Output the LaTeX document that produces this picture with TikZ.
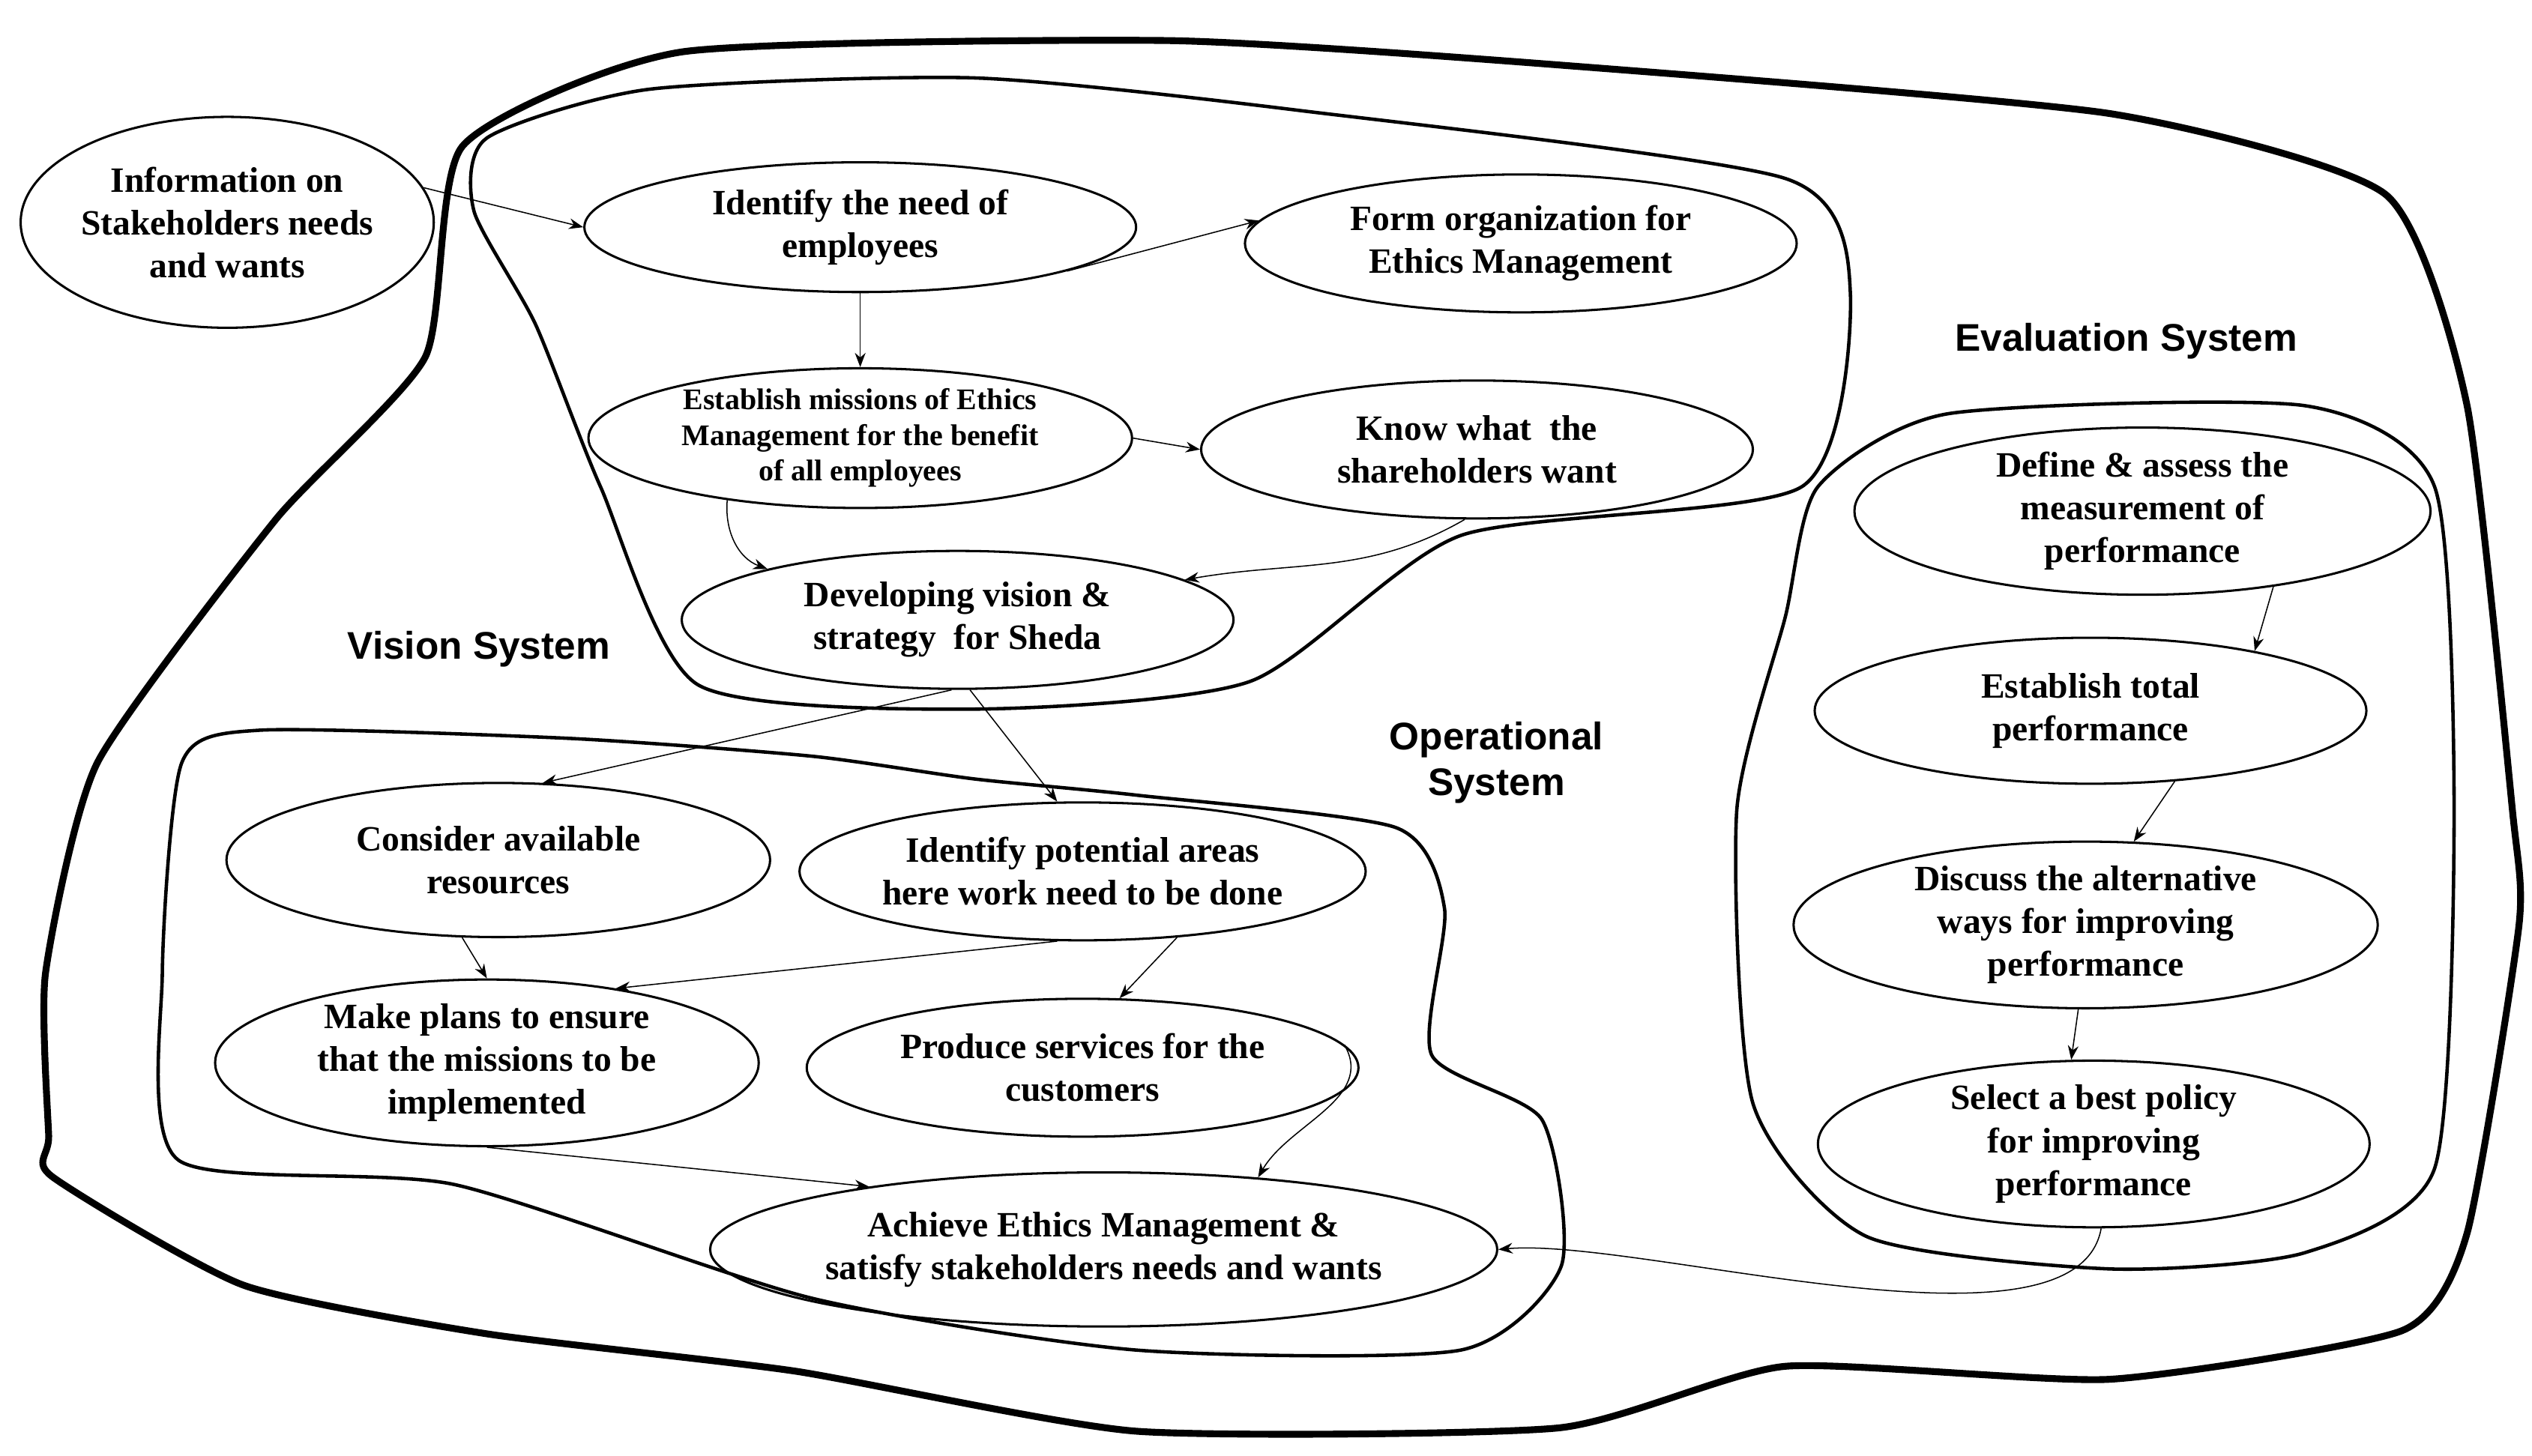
\documentclass[tikz,border=0pt]{standalone}
\usepackage{fontspec}
\setmainfont{Liberation Serif}
\newfontfamily\labelfont{Liberation Sans}
\usetikzlibrary{arrows.meta,shapes.geometric,calc}
\begin{document}
\begin{tikzpicture}[x=0.02cm,y=-0.02cm,
  goal/.style={draw, thick, ellipse, inner sep=0pt, align=center,
    font=\fontsize{12.5}{15}\selectfont\bfseries},
  sys/.style={font=\labelfont\fontsize{13.5}{16}\selectfont\bfseries, align=center},
  blob/.style={draw, line width=1.2pt},
  flow/.style={-{Stealth[length=5pt]}, thin},
]
\useasboundingbox (0,0) rectangle (1560,897);
% --- boundaries ---
\draw[blob, line width=2.4pt] plot[smooth cycle, tension=0.35] coordinates {(30,700) (28,600) (60,470) (170,320) (262,220) (285,90) (420,32) (720,25) (960,40) (1300,70) (1470,120) (1520,250) (1548,500) (1552,570) (1520,760) (1480,820) (1300,850) (1100,842) (960,880) (700,882) (490,845) (300,822) (150,792) (32,725)};
\draw[blob] plot[smooth cycle, tension=0.4] coordinates {(300,85) (400,55) (600,48) (800,68) (1100,110) (1140,180) (1110,300) (900,330) (770,420) (600,437) (430,422) (370,300) (330,200) (292,130)};
\draw[blob] plot[smooth cycle, tension=0.4] coordinates {(112,470) (160,450) (350,455) (500,466) (600,480) (700,490) (860,510) (890,560) (882,650) (950,690) (962,780) (900,832) (700,832) (500,800) (280,730) (110,715) (100,600)};
\draw[blob] plot[smooth cycle, tension=0.4] coordinates {(1120,300) (1200,255) (1420,250) (1500,300) (1512,500) (1500,720) (1420,772) (1300,782) (1150,762) (1080,680) (1070,500) (1100,380)};
% --- labels ---
\node[sys] (lvision) at (295,400) {Vision System};
\node[sys] (loper) at (922,470) {Operational\\System};
\node[sys] (leval) at (1310,210) {Evaluation System};
% --- vision ---
\node[goal, minimum width=4.5cm, minimum height=2.6cm] (info) at (140,137) {Information on\\Stakeholders needs\\and wants};
\node[goal, minimum width=6.8cm, minimum height=1.6cm] (idneed) at (530,140) {Identify the need of\\employees};
\node[goal, minimum width=6.8cm, minimum height=1.7cm] (form) at (937,150) {Form organization for\\Ethics Management};
\node[goal, minimum width=6.7cm, minimum height=1.7cm, font=\fontsize{10.5}{12.5}\selectfont\bfseries] (mission) at (530,270) {Establish missions of Ethics\\Management for the benefit\\of all employees};
\node[goal, minimum width=6.8cm, minimum height=1.7cm] (know) at (910,277) {Know what\ \ the\\shareholders want};
\node[goal, minimum width=6.8cm, minimum height=1.7cm] (dev) at (590,382) {Developing vision \&\\strategy\ \ for Sheda};
% --- operational ---
\node[goal, minimum width=6.7cm, minimum height=1.9cm] (consider) at (307,530) {Consider available\\resources};
\node[goal, minimum width=6.8cm, minimum height=1.7cm] (areas) at (667,537) {Identify potential areas\\here work need to be done};
\node[goal, minimum width=6.7cm, minimum height=1.9cm] (plans) at (300,655) {Make plans to ensure\\that the missions to be\\implemented};
\node[goal, minimum width=6.8cm, minimum height=1.7cm] (produce) at (667,658) {Produce services for the\\customers};
\node[goal, minimum width=9cm, minimum height=1.9cm] (achieve) at (680,770) {Achieve Ethics Management \&\\satisfy stakeholders needs and wants};
% --- evaluation ---
\node[goal, minimum width=7.1cm, minimum height=1.9cm] (define) at (1320,315) {Define \& assess the\\measurement of\\performance};
\node[goal, minimum width=6.8cm, minimum height=1.8cm] (total) at (1288,438) {Establish total\\performance};
\node[goal, minimum width=7.2cm, minimum height=2cm] (discuss) at (1285,570) {Discuss the alternative\\ways for improving\\performance};
\node[goal, minimum width=6.8cm, minimum height=1.9cm] (select) at (1290,705) {Select a best policy\\for improving\\performance};
% --- connectors ---
\draw[flow] (info.10) -- (idneed.west);
\draw[flow] (idneed.-12) -- (form.175);
\draw[flow] (idneed.south) -- (mission.north);
\draw[flow] (mission.east) -- (know.west);
\draw[flow] (mission.205) to[out=-95, in=160] (dev.165);
\draw[flow] (know.-100) to[out=-150, in=10] (dev.10);
\draw[flow] (dev.-95) -- (consider.60);
\draw[flow] (dev.-80) -- (areas.110);
\draw[flow] (consider.-115) -- (plans.90);
\draw[flow] (areas.-110) -- (plans.30);
\draw[flow] (areas.-35) -- (produce.62);
\draw[flow] (plans.-90) -- (achieve.165);
\draw[flow] (produce.5) to[out=-60, in=60] (achieve.25);
\draw[flow] (define.-30) -- (total.20);
\draw[flow] (total.-40) -- (discuss.60);
\draw[flow] (discuss.-95) -- (select.105);
\draw[flow] (select.-85) to[out=-100, in=5, looseness=0.6] (achieve.east);
\end{tikzpicture}
\end{document}
